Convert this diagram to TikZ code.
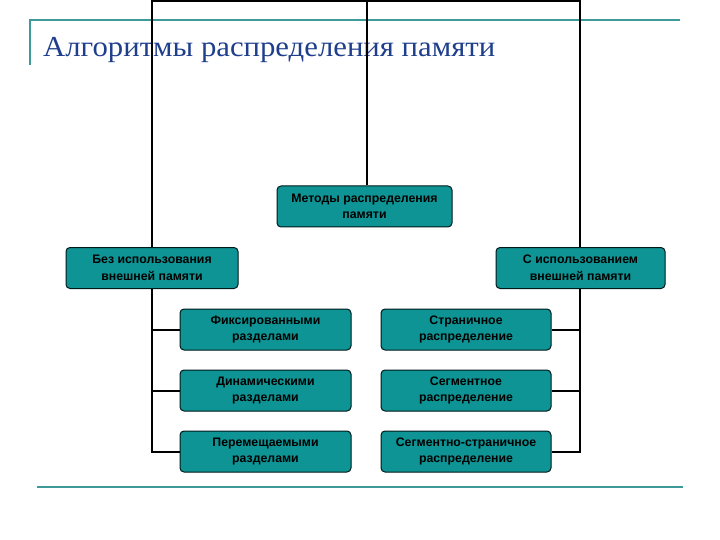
\documentclass[tikz,border=0pt]{standalone}
\usepackage{fontspec}
\setmainfont{Liberation Serif}
\setsansfont{Liberation Sans}
\begin{document}
\begin{tikzpicture}[x=1pt,y=-1pt,
  box/.style={draw=black!80!teal, fill=boxteal, rounded corners=4pt, line width=1pt,
    minimum width=171pt, minimum height=41pt, align=center, inner sep=1pt,
    font=\sffamily\bfseries\fontsize{12.3}{16.5}\selectfont},
  wire/.style={line width=2pt, black},
  rule/.style={line width=2pt, ruleteal}]
\definecolor{boxteal}{HTML}{0E9494}
\definecolor{ruleteal}{HTML}{3E9A98}
\definecolor{titleblue}{HTML}{1F3F8C}
\useasboundingbox (0,0) rectangle (720,540);
% decorative rules
\draw[rule] (30,65) -- (30,20) -- (680,20);
\draw[rule] (37,487) -- (683,487);
% title
\node[anchor=base west, inner sep=0, text=titleblue, font=\fontsize{29}{32}\selectfont, xscale=1.06] (title) at (43,57) {Алгоритмы распределения памяти};
% boxes
\node[box, minimum width=175pt] (m) at (364.5,206.5) {Методы распределения\\памяти};
\node[box, minimum width=172pt] (l) at (152,268) {Без использования\\внешней памяти};
\node[box, minimum width=169pt] (r) at (580.5,268) {С использованием\\внешней памяти};
\node[box] (l1) at (265.5,329.5) {Фиксированными\\разделами};
\node[box] (l2) at (265.5,390.5) {Динамическими\\разделами};
\node[box] (l3) at (265.5,451.5) {Перемещаемыми\\разделами};
\node[box, minimum width=170pt] (r1) at (466,329.5) {Страничное\\распределение};
\node[box, minimum width=170pt] (r2) at (466,390.5) {Сегментное\\распределение};
\node[box, minimum width=170pt] (r3) at (466,451.5) {Сегментно-страничное\\распределение};
% connectors
\coordinate (tl) at (152,1);
\coordinate (tr) at (580,1);
\coordinate (tm) at (367,1);
\draw[wire] (l.north) -- (tl) -- (tr) -- (r.north -| tr);
\draw[wire] (m.north -| tm) -- (tm);
\draw[wire] (l.south) -- (l3.west -| l.south) -- (l3.west);
\draw[wire] (l1.west -| l.south) -- (l1.west);
\draw[wire] (l2.west -| l.south) -- (l2.west);
\draw[wire] (r.south -| tr) -- (r3.east -| tr) -- (r3.east);
\draw[wire] (r1.east -| tr) -- (r1.east);
\draw[wire] (r2.east -| tr) -- (r2.east);
\end{tikzpicture}
\end{document}
